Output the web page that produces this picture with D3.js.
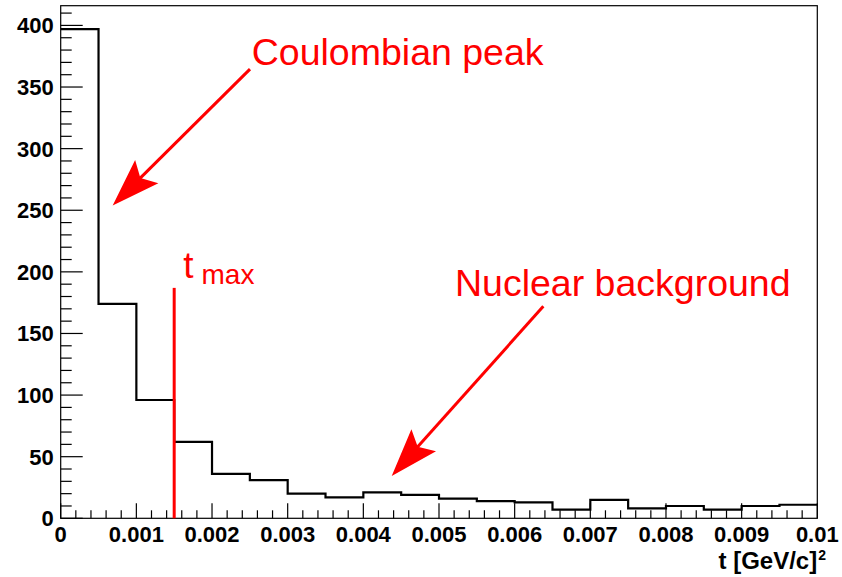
<!DOCTYPE html>
<html>
<head>
<meta charset="utf-8">
<script src="https://cdn.jsdelivr.net/npm/d3@7"></script>
<style>
  html, body { margin: 0; padding: 0; background: #fff; }
  svg { display: block; }
</style>
</head>
<body>
<div id="chart"></div>
<script>
// ---- data ----
const binEdgesStart = 0;
const binWidth = 0.0005;
const counts = [397, 174, 96, 62, 36, 31, 20, 17, 21, 19, 16, 14, 13, 7, 15, 8, 10, 7, 10, 11];
const xTicks = [0, 0.001, 0.002, 0.003, 0.004, 0.005, 0.006, 0.007, 0.008, 0.009, 0.01];
const xTickLabels = ["0", "0.001", "0.002", "0.003", "0.004", "0.005", "0.006", "0.007", "0.008", "0.009", "0.01"];
const yTicks = [0, 50, 100, 150, 200, 250, 300, 350, 400];
const xDomain = [0, 0.01];
const yDomain = [0, 416];
const tmax = 0.0015;
const tmaxLineTop = 187;
// annotations in data coordinates
const arrows = [
  { from: [0.002502, 364.5], to: [0.000687, 253.9] },
  { from: [0.006379, 172.0], to: [0.004375, 34.4] }
];
const labels = [
  { text: "Coulombian peak", x: 0.002525, y: 368 },
  { text: "Nuclear background", x: 0.005211, y: 180.5 }
];
const tmaxLabel = { main: "t", sub: "max", x: 0.00162, y: 195 };

// ---- layout ----
const W = 842, H = 577;
const mLeft = 60.7, mRight = 817.3, mTop = 5.7, mBottom = 518.3;

const svg = d3.select("#chart").append("svg")
  .attr("width", W).attr("height", H)
  .style("background", "#fff");

const x = d3.scaleLinear().domain(xDomain).range([mLeft, mRight]);
const y = d3.scaleLinear().domain(yDomain).range([mBottom, mTop]);

// histogram step path
const pts = [];
counts.forEach((c, i) => {
  const x0 = binEdgesStart + i * binWidth, x1 = x0 + binWidth;
  pts.push([x(x0), y(c)], [x(x1), y(c)]);
});
svg.append("path")
  .attr("d", d3.line()(pts))
  .attr("fill", "none")
  .attr("stroke", "#000")
  .attr("stroke-width", 2.2);

// frame
svg.append("rect")
  .attr("x", mLeft).attr("y", mTop)
  .attr("width", mRight - mLeft).attr("height", mBottom - mTop)
  .attr("fill", "none").attr("stroke", "#000").attr("stroke-width", 1.2);

// y axis ticks
const yMinor = d3.range(0, 411, 10);
svg.append("g").selectAll("line").data(yMinor).enter().append("line")
  .attr("x1", mLeft).attr("x2", d => mLeft + (d % 50 === 0 ? 22 : 11))
  .attr("y1", d => y(d)).attr("y2", d => y(d))
  .attr("stroke", "#000").attr("stroke-width", 1.2);
svg.append("g").selectAll("text").data(yTicks).enter().append("text")
  .attr("x", mLeft - 7).attr("y", d => y(d) + 8)
  .attr("text-anchor", "end")
  .attr("font-family", "Liberation Sans, Arial, sans-serif")
  .attr("font-weight", "bold").attr("font-size", 22)
  .text(d => d);

// x axis ticks
const xMinor = d3.range(0, 51).map(i => i * 0.0002);
svg.append("g").selectAll("line").data(xMinor).enter().append("line")
  .attr("x1", d => x(d)).attr("x2", d => x(d))
  .attr("y1", mBottom).attr("y2", (d, i) => mBottom - (i % 5 === 0 ? 15 : 8))
  .attr("stroke", "#000").attr("stroke-width", 1.2);
svg.append("g").selectAll("text").data(xTicks).enter().append("text")
  .attr("x", d => x(d)).attr("y", mBottom + 24)
  .attr("text-anchor", "middle")
  .attr("font-family", "Liberation Sans, Arial, sans-serif")
  .attr("font-weight", "bold").attr("font-size", 22)
  .text((d, i) => xTickLabels[i]);

// axis title
const title = svg.append("text")
  .attr("x", 826).attr("y", 569)
  .attr("text-anchor", "end")
  .attr("font-family", "Liberation Sans, Arial, sans-serif")
  .attr("font-weight", "bold").attr("font-size", 24);
title.append("tspan").text("t [GeV/c]");
title.append("tspan").attr("dx", 1).attr("dy", -9).attr("font-size", 14).text("2");

// t_max line
svg.append("line")
  .attr("x1", x(tmax)).attr("x2", x(tmax))
  .attr("y1", y(0)).attr("y2", y(tmaxLineTop))
  .attr("stroke", "#ff0000").attr("stroke-width", 3);

const tl = svg.append("text")
  .attr("x", x(tmaxLabel.x)).attr("y", y(tmaxLabel.y))
  .attr("fill", "#ff0000")
  .attr("font-family", "Liberation Sans, Arial, sans-serif")
  .attr("font-size", 37);
tl.append("tspan").text(tmaxLabel.main);
tl.append("tspan").attr("dx", 8).attr("dy", 6).attr("font-size", 28).text(tmaxLabel.sub);

// arrows
const headLen = 48, notch = 39, halfW = 16.5;
arrows.forEach(a => {
  const sx = x(a.from[0]), sy = y(a.from[1]);
  const tx = x(a.to[0]), ty = y(a.to[1]);
  const dx = tx - sx, dy = ty - sy, L = Math.hypot(dx, dy);
  const ux = dx / L, uy = dy / L, px = -uy, py = ux;
  const bx = tx - ux * headLen, by = ty - uy * headLen;
  const nx = tx - ux * notch, ny = ty - uy * notch;
  svg.append("line")
    .attr("x1", sx).attr("y1", sy).attr("x2", nx + ux * 2).attr("y2", ny + uy * 2)
    .attr("stroke", "#ff0000").attr("stroke-width", 3);
  svg.append("path")
    .attr("d", d3.line()([[tx, ty], [bx + px * halfW, by + py * halfW], [nx, ny], [bx - px * halfW, by - py * halfW]]) + "Z")
    .attr("fill", "#ff0000").attr("stroke", "none");
});

// labels
svg.append("g").selectAll("text").data(labels).enter().append("text")
  .attr("x", d => x(d.x)).attr("y", d => y(d.y))
  .attr("fill", "#ff0000")
  .attr("font-family", "Liberation Sans, Arial, sans-serif")
  .attr("font-size", 37.5)
  .text(d => d.text);
</script>
</body>
</html>
